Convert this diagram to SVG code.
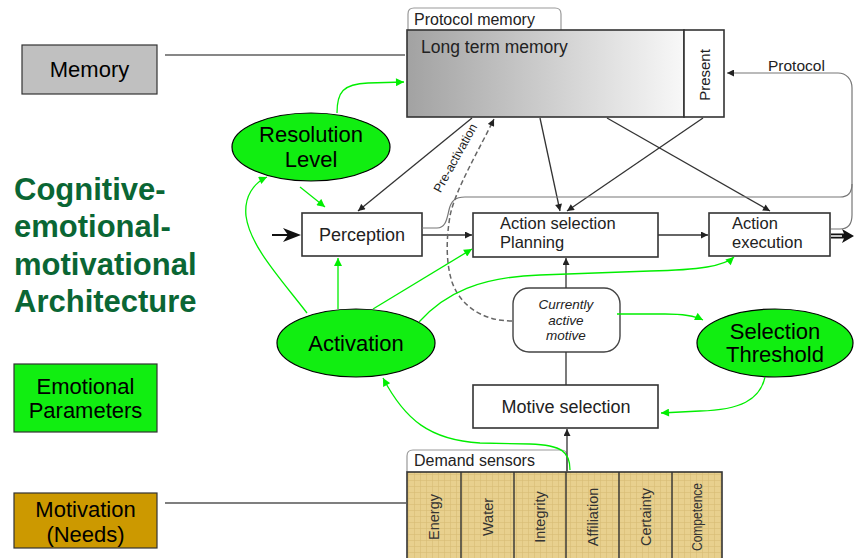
<svg xmlns="http://www.w3.org/2000/svg" width="854" height="558" viewBox="0 0 854 558">
<style>
text{font-family:"Liberation Sans",Arial,sans-serif;}
.lbl{font-size:22px;fill:#000;}
.fig{fill:#222;}
.box{fill:#fff;stroke:#333;stroke-width:1.6;}
.gl{fill:none;stroke:#333;stroke-width:1.3;}
.gn{fill:none;stroke:#00ee00;stroke-width:1.3;}
.ell{fill:#11ee11;stroke:#000;stroke-width:1.2;}
.title{font-size:31px;font-weight:bold;fill:#0a6634;}
.sens{font-size:14.5px;fill:#333;}
</style>
<defs>
<linearGradient id="ltm" x1="0" y1="0" x2="1" y2="0">
<stop offset="0" stop-color="#a2a2a2"/>
<stop offset="1" stop-color="#f8f8f8"/>
</linearGradient>
<pattern id="grid" width="6" height="6" patternUnits="userSpaceOnUse">
<rect width="6" height="6" fill="#e8d08e"/>
<path d="M0 0.5H6M0.5 0V6" stroke="#d6bc75" stroke-width="0.6"/>
</pattern>
<marker id="ag" viewBox="0 0 10 10" refX="10" refY="5" markerWidth="8" markerHeight="7" markerUnits="userSpaceOnUse" orient="auto">
<path d="M0 0L10 5L0 10Z" fill="#222"/>
</marker>
<marker id="agn" viewBox="0 0 10 10" refX="10" refY="5" markerWidth="9" markerHeight="8" markerUnits="userSpaceOnUse" orient="auto">
<path d="M0 0L10 5L0 10Z" fill="#00ee00"/>
</marker>
</defs>
<rect width="854" height="558" fill="#fff"/>

<g id="title">
<text class="title" x="14" y="200">Cognitive-</text>
<text class="title" x="14" y="237">emotional-</text>
<text class="title" x="14" y="275">motivational</text>
<text class="title" x="14" y="312">Architecture</text>
</g>

<g id="legend-memory">
<rect x="22" y="45" width="135" height="49" fill="#c0c0c0" stroke="#333" stroke-width="1.2"/>
<text class="lbl" x="89.5" y="77" text-anchor="middle">Memory</text>
</g>
<g id="legend-emotional">
<rect x="14" y="364" width="143" height="68" fill="#11ee11" stroke="#333" stroke-width="1.2"/>
<text class="lbl" x="85.5" y="394" text-anchor="middle">Emotional</text>
<text class="lbl" x="85.5" y="418" text-anchor="middle">Parameters</text>
</g>
<g id="legend-motivation">
<rect x="14" y="493" width="143" height="55" fill="#cc9900" stroke="#333" stroke-width="1.2"/>
<text class="lbl" x="85.5" y="517" text-anchor="middle">Motivation</text>
<text class="lbl" x="85.5" y="542" text-anchor="middle">(Needs)</text>
</g>

<g id="protocol-memory">
<path d="M408 30V14Q408 8 414 8H555Q561 8 561 14V30" fill="#fff" stroke="#999" stroke-width="1.2"/>
<text class="fig" x="414" y="25" font-size="16">Protocol memory</text>
<rect x="407" y="30" width="277" height="87" fill="url(#ltm)" stroke="#333" stroke-width="1.6"/>
<rect x="684" y="30" width="40" height="87" fill="#fff" stroke="#333" stroke-width="1.6"/>
<text class="fig" x="421" y="53" font-size="17.5">Long term memory</text>
<text class="fig" font-size="15" text-anchor="middle" transform="translate(710 75) rotate(-90)">Present</text>
</g>

<g id="perception">
<rect class="box" x="302" y="213" width="120" height="43"/>
<text class="fig" x="362" y="241" font-size="18" text-anchor="middle">Perception</text>
</g>
<g id="action-selection">
<rect class="box" x="473" y="213" width="185" height="44"/>
<text class="fig" x="500" y="229" font-size="16.5">Action selection</text>
<text class="fig" x="500" y="248" font-size="16.5">Planning</text>
</g>
<g id="action-execution">
<rect class="box" x="709" y="213" width="121" height="43"/>
<text class="fig" x="732" y="229" font-size="16.5">Action</text>
<text class="fig" x="732" y="248" font-size="16.5">execution</text>
</g>
<g id="current-motive">
<rect x="513" y="288" width="107" height="64" rx="16" fill="#fff" stroke="#444" stroke-width="1.4"/>
<text class="fig" x="566" y="309" font-size="13.5" font-style="italic" text-anchor="middle">Currently</text>
<text class="fig" x="566" y="324.5" font-size="13.5" font-style="italic" text-anchor="middle">active</text>
<text class="fig" x="566" y="340" font-size="13.5" font-style="italic" text-anchor="middle">motive</text>
</g>
<g id="motive-selection">
<rect class="box" x="473" y="385" width="185" height="43"/>
<text class="fig" x="566" y="413" font-size="18" text-anchor="middle">Motive selection</text>
</g>

<g id="demand-sensors">
<path d="M407 472V456Q407 450 413 450H561Q567 450 567 456V472" fill="#fff" stroke="#999" stroke-width="1.2"/>
<text class="fig" x="414" y="466" font-size="16">Demand sensors</text>
<rect x="407" y="472" width="315" height="90" fill="url(#grid)" stroke="#333" stroke-width="1.6"/>
<path d="M461 472V558M514 472V558M566 472V558M619 472V558M672 472V558" stroke="#333" stroke-width="1.4"/>
<text class="sens" text-anchor="middle" transform="translate(439 517) rotate(-90)">Energy</text>
<text class="sens" text-anchor="middle" transform="translate(492.5 517) rotate(-90)">Water</text>
<text class="sens" text-anchor="middle" transform="translate(545 517) rotate(-90)">Integrity</text>
<text class="sens" text-anchor="middle" transform="translate(597.5 517) rotate(-90)">Affiliation</text>
<text class="sens" text-anchor="middle" transform="translate(650.5 517) rotate(-90)">Certainty</text>
<text class="sens" text-anchor="middle" textLength="68" lengthAdjust="spacingAndGlyphs" transform="translate(702 517) rotate(-90)">Competence</text>
</g>

<g id="resolution-level">
<ellipse class="ell" cx="311" cy="147" rx="79" ry="34"/>
<text class="lbl" x="311" y="142" text-anchor="middle">Resolution</text>
<text class="lbl" x="311" y="167" text-anchor="middle">Level</text>
</g>
<g id="activation">
<ellipse class="ell" cx="356" cy="343" rx="79" ry="34"/>
<text class="lbl" x="356" y="351" text-anchor="middle">Activation</text>
</g>
<g id="selection-threshold">
<ellipse class="ell" cx="775" cy="343" rx="78" ry="34"/>
<text class="lbl" x="775" y="339" text-anchor="middle">Selection</text>
<text class="lbl" x="775" y="362" text-anchor="middle">Threshold</text>
</g>

<g id="connectors">
<line x1="165" y1="55" x2="405" y2="55" stroke="#111" stroke-width="1.2"/>
<line x1="165" y1="503" x2="406" y2="503" stroke="#555" stroke-width="1.6"/>
<line x1="472" y1="118" x2="358" y2="211" class="gl" marker-end="url(#ag)"/>
<line x1="540" y1="118" x2="560" y2="211" class="gl" marker-end="url(#ag)"/>
<line x1="703" y1="118" x2="567" y2="211" class="gl" marker-end="url(#ag)"/>
<line x1="607" y1="118" x2="770" y2="211" class="gl" marker-end="url(#ag)"/>
<line x1="422" y1="235" x2="472" y2="235" class="gl" marker-end="url(#ag)"/>
<line x1="658" y1="235" x2="708" y2="235" class="gl" marker-end="url(#ag)"/>
<line x1="566" y1="288" x2="566" y2="258" class="gl" marker-end="url(#ag)"/>
<line x1="566" y1="385" x2="566" y2="352" class="gl"/>
<line x1="567" y1="471" x2="567" y2="429" class="gl" marker-end="url(#ag)"/>
<path d="M422 228H437C446 228 447 218 449 210C451 201 455 197 465 197H840C848 197 852 192 852 184" fill="none" stroke="#777" stroke-width="1.2"/>
<path d="M831 229H840C848 229 852 224 852 215V88C852 79 846 73 838 73H727" fill="none" stroke="#777" stroke-width="1.2" marker-end="url(#ag)"/>
<text class="fig" x="768" y="71" font-size="15.5">Protocol</text>
<path d="M512 321C482 321 460 305 452 282C446 263 446 240 450 216C455 190 480 148 494 119" fill="none" stroke="#666" stroke-width="1.5" stroke-dasharray="5 3" marker-end="url(#ag)"/>
<text class="fig" x="0" y="0" font-size="12.5" text-anchor="middle" transform="translate(459 160) rotate(-61)">Pre-activation</text>
<line x1="272" y1="235" x2="288" y2="235" stroke="#111" stroke-width="2"/>
<path d="M301 235L283 228L288 235L283 242Z" fill="#111"/>
<line x1="831" y1="236" x2="845" y2="236" stroke="#111" stroke-width="5"/>
<line x1="831" y1="236" x2="842" y2="236" stroke="#fff" stroke-width="1.5"/>
<path d="M854 236L842 229L845 236L842 243Z" fill="#111"/>
<path class="gn" d="M337 113C337 92 343 84 368 83L404 82" marker-end="url(#agn)"/>
<path class="gn" d="M300 187L325 207" marker-end="url(#agn)"/>
<path class="gn" d="M307 313C280 278 250 246 246 216C244 196 254 183 267 177" marker-end="url(#agn)"/>
<path class="gn" d="M338 309V258" marker-end="url(#agn)"/>
<path class="gn" d="M373 309L472 249" marker-end="url(#agn)"/>
<path class="gn" d="M419 322C445 293 480 277 540 275L650 271C700 270 724 266 734 257" marker-end="url(#agn)"/>
<path class="gn" d="M617 314H665C685 314 695 316 703 320" marker-end="url(#agn)"/>
<path class="gn" d="M765 377C760 400 740 410 700 411L661 413" marker-end="url(#agn)"/>
<path class="gn" d="M570 470C570 452 562 445 530 444L480 443C430 440 405 420 383 378" marker-end="url(#agn)"/>
</g>
</svg>
